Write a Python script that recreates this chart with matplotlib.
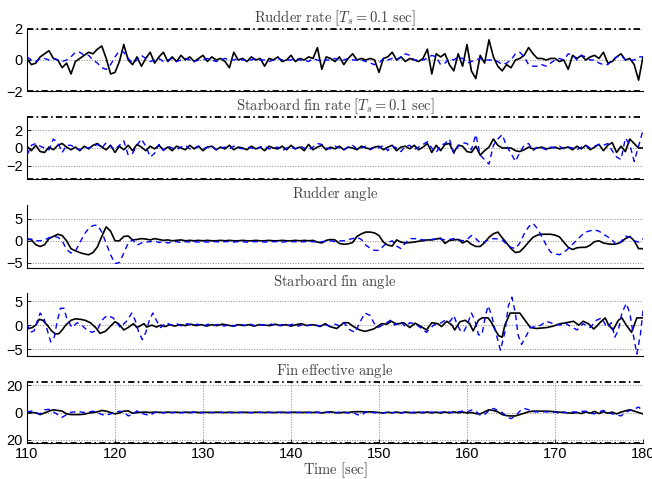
import numpy as np
import matplotlib.pyplot as plt

plt.rcParams['mathtext.fontset'] = 'cm'
plt.rcParams['font.family'] = ['Liberation Sans', 'DejaVu Sans']

# sampling grid, 0.5 s
t = np.arange(110, 180.25, 0.5)

# rudder rate (black = actual, blue = command)
rudder_rate = [0.1, -0.3, -0.2, 0.2, 0.4, 0.6, 0.1, 0.0, -0.5, -0.2,
               -0.9, -0.1, 0.1, 0.3, 0.5, 0.4, 0.7, 0.9, 0.1, -0.9,
               -0.8, -0.1, 1.0, 0.0, -0.3, 0.2, -0.4, 0.1, 0.5, -0.2,
               0.2, 0.5, -0.1, 0.2, -0.1, 0.3, 0.0, 0.2, -0.1, 0.1,
               0.3, -0.1, 0.2, 0.0, 0.1, -0.1, -0.5, 0.5, 0.0, 0.1,
               -0.1, 0.2, 0.0, 0.1, -0.4, 0.1, 0.0, 0.2, -0.1, 0.0,
               0.3, -0.1, 0.1, 0.0, 0.2, 0.1, 0.8, -0.6, 0.2, 0.1,
               -0.1, 0.2, -0.3, 0.1, 0.4, 0.0, 0.1, 0.0, 0.1, 0.0,
               -0.8, 0.1, 0.2, 0.5, 0.0, 0.2, -0.1, 0.1, 0.0, -0.1,
               0.1, 0.7, -0.9, 0.4, 0.2, 0.4, -0.3, -0.7, 0.4, -0.4,
               1.0, -0.7, -1.2, 0.3, -0.2, 1.3, 0.2, -0.4, -0.7, -0.3,
               -0.5, 0.0, 0.1, 0.3, 0.8, 0.4, 0.1, 0.1, 0.0, 0.1,
               0.1, -0.1, 0.0, -0.6, 0.3, 0.1, 0.3, 0.0, 0.2, 0.3,
               0.1, 0.5, -0.2, -0.1, 0.2, 0.4, 0.0, 0.1, -0.3, -1.3, 0.2]
rudder_rate_ref = [0.2, 0.0, -0.1, 0.1, 0.1, 0.0, 0.1, 0.0, -0.1, 0.0,
                   0.2, 0.5, 0.5, 0.3, 0.3, 0.0, -0.2, -0.5, -0.6, -0.3,
                   0.2, 0.6, 0.5, 0.1, -0.2, 0.0, 0.3, 0.1, -0.1, 0.0,
                   0.1, -0.1, 0.0, 0.1, -0.1, 0.0, 0.1, 0.0, -0.1, 0.0,
                   0.0, 0.1, 0.0, -0.1, 0.0, 0.1, 0.0, 0.0, 0.1, 0.0,
                   0.0, 0.0, 0.1, 0.0, 0.0, -0.1, 0.0, 0.1, 0.0, 0.0,
                   0.0, 0.1, 0.0, 0.0, -0.1, 0.1, 0.0, -0.1, 0.0, 0.0,
                   0.1, 0.0, 0.0, 0.1, 0.0, 0.0, 0.0, -0.1, -0.2, -0.3,
                   -0.2, 0.1, 0.0, 0.1, 0.0, 0.2, 0.4, 0.3, 0.0, 0.0,
                   0.0, 0.1, 0.3, 0.2, -0.3, -0.2, 0.1, 0.0, 0.2, 0.1,
                   -0.2, -0.1, 0.0, 0.1, 0.0, 0.0, 0.0, -0.1, -0.3, -0.2,
                   0.0, 0.4, 0.5, 0.2, -0.3, -0.4, -0.4, -0.3, -0.4, -0.2,
                   0.0, 0.1, 0.0, 0.4, 0.3, 0.0, 0.3, 0.2, 0.0, 0.0,
                   -0.2, -0.3, -0.3, 0.0, 0.2, 0.3, 0.0, 0.0, 0.0, 0.2, 0.2]

# starboard fin rate
fin_rate = [0.2, -0.3, 0.3, -0.4, -0.5, 0.1, -0.2, 0.3, 0.5, 0.1,
            -0.2, 0.1, -0.3, 0.2, -0.1, 0.3, 0.5, 0.1, -0.2, 0.3,
            -0.5, 0.2, -0.2, 0.3, -0.3, 0.4, 0.1, -0.3, 0.2, -0.1,
            0.3, -0.2, 0.1, -0.3, 0.2, 0.0, -0.2, 0.3, -0.1, 0.2,
            -0.3, 0.1, 0.2, -0.2, 0.1, -0.1, 0.3, -0.2, 0.1, 0.0,
            -0.2, 0.2, -0.1, 0.1, -0.3, 0.2, 0.0, -0.1, 0.2, -0.2,
            0.3, -0.1, 0.1, -0.3, 0.4, -0.2, 0.1, 0.3, -0.2, 0.1,
            -0.1, 0.2, -0.2, 0.1, 0.0, -0.2, 0.2, 0.0, -0.1, 0.1,
            0.2, -0.2, 0.1, 0.3, -0.3, 0.1, 0.2, -0.1, 0.3, -0.2,
            0.1, 0.5, -0.5, 0.3, -0.3, 0.4, 0.5, -0.5, 0.3, 0.2,
            -0.4, -0.5, 0.2, -0.8, -0.3, 0.1, 1.0, 0.3, 0.0, 0.0,
            0.0, -0.3, -0.4, -0.2, 0.1, -0.1, 0.0, 0.1, -0.1, 0.0,
            0.1, -0.1, 0.0, 0.1, -0.2, 0.2, -0.1, 0.3, -0.2, 0.1,
            0.4, -0.3, 0.3, 0.6, -0.5, 0.2, -0.4, 1.0, 0.5, 0.0, 0.0]
fin_rate_ref = [-0.8, 0.3, 0.5, 0.2, 0.0, -0.2, 1.0, 0.6, -0.5, 0.3,
                0.3, 0.0, -0.2, 0.1, 0.0, 0.2, 0.4, 0.0, 0.6, 0.2,
                -0.2, 0.3, 0.8, -0.8, -0.6, 0.3, 1.0, 0.2, -1.0, -0.6,
                0.4, -0.3, 0.2, 0.0, -0.2, 0.1, 0.3, -0.1, 0.0, 0.2,
                -0.1, 0.1, 0.2, -0.2, 0.0, 0.1, -0.1, 0.2, 0.0, -0.1,
                0.1, 0.0, -0.2, 0.1, 0.2, -0.1, 0.0, 0.1, -0.3, 0.0,
                0.1, -0.1, 0.2, 0.0, -0.2, 0.1, 0.5, 0.4, 0.0, -0.1,
                0.2, 0.0, -0.2, 0.1, 0.3, -0.1, 0.0, 0.2, -0.2, 0.1,
                0.0, 0.3, -0.3, 0.2, 0.0, -0.4, 0.2, 0.3, -0.2, 0.1,
                0.4, 0.7, 0.0, -0.5, 0.3, 0.5, 1.0, -0.6, 0.2, 0.6,
                0.5, -0.2, 1.5, -0.8, -1.3, -1.8, 0.3, 1.0, 1.5, 0.2,
                -0.6, -1.5, -0.5, 0.3, 0.5, -0.3, 0.1, 0.0, -0.2, 0.1,
                0.0, 0.2, -0.1, 0.1, 0.0, -0.2, 0.1, 0.3, 0.0, 0.2,
                0.4, 0.3, 0.5, -0.3, -1.0, -1.3, 1.1, 0.4, -1.5, 0.2, 2.0]

# rudder angle
rudder_ang = [0.5, 0.2, -0.9, -1.3, -0.9, 0.5, 1.0, 1.5, 1.2, 0.0,
              -1.8, -2.3, -2.7, -3.0, -3.2, -2.7, -1.4, 1.0, 3.2, 2.2,
              0.0, 0.0, 1.0, 1.1, 0.2, 0.3, 0.5, 0.4, 0.2, 0.5,
              0.3, 0.1, 0.2, 0.0, 0.1, 0.2, 0.0, 0.1, 0.0, 0.1,
              0.0, 0.1, 0.0, 0.0, 0.1, 0.0, 0.1, 0.0, 0.0, 0.1,
              0.0, 0.0, 0.1, 0.0, 0.0, 0.1, 0.0, 0.0, 0.1, 0.0,
              0.0, 0.1, 0.0, 0.1, 0.0, 0.1, -0.3, -0.5, 0.1, 0.3,
              0.2, -0.6, -0.8, -0.7, -0.4, 1.0, 1.6, 2.0, 2.0, 1.8,
              1.2, -0.3, -1.0, -1.2, 0.2, -0.3, -0.5, -0.4, -0.3, -0.1,
              0.0, 0.2, 0.2, 0.4, 0.6, -0.6, 0.1, 0.2, 0.3, -0.5,
              0.0, -0.8, -1.3, -1.3, -0.4, 0.8, 1.6, 2.0, 0.7, -0.5,
              -1.8, -2.7, -2.5, -1.5, -0.3, 0.8, 1.3, 1.5, 1.5, 1.5,
              1.3, 0.9, -0.3, -1.5, -2.0, -1.6, -1.5, -1.5, -1.0, -0.2,
              0.0, -0.5, -0.7, -0.8, -0.7, -0.3, 0.5, 1.0, 0.0, -1.8, -1.8]
rudder_ang_ref = [0.2, 0.4, 0.0, 0.0, 0.2, 0.7, 1.0, 0.8, 0.0, -2.0,
                  -2.8, -2.4, -0.5, 1.5, 2.8, 3.5, 3.6, 2.0, -0.6, -3.2,
                  -5.2, -5.0, -2.8, -0.5, 0.2, -1.0, -0.5, -0.3, -0.2, 0.0,
                  -0.4, -0.2, -0.5, -0.3, -0.2, -0.4, -0.2, -0.3, -0.2, -0.3,
                  -0.2, -0.3, -0.2, -0.2, -0.3, -0.2, -0.2, -0.3, -0.2, -0.2,
                  -0.3, -0.2, -0.2, -0.2, -0.3, -0.2, -0.2, -0.2, -0.3, -0.2,
                  -0.2, -0.2, -0.3, -0.2, -0.2, -0.2, -0.3, -0.2, -0.1, 0.0,
                  -0.2, 0.0, 0.0, 0.3, 0.5, 0.8, 0.3, -1.0, -1.7, -2.2,
                  -2.2, -1.2, -0.4, 0.0, -1.2, -1.8, -0.5, 0.5, 0.5, 0.4,
                  0.2, 0.2, 0.3, 0.5, 0.4, 0.2, 0.3, 0.5, 0.3, 0.0,
                  0.3, 1.2, 0.5, -0.5, -0.2, 0.3, 0.5, 0.4, 0.2, -0.8,
                  -1.5, -1.8, -0.5, 1.6, 3.2, 4.0, 2.8, 1.0, -1.0, -2.6,
                  -3.0, -3.2, -2.7, -1.8, -0.8, 0.2, 1.2, 2.0, 2.3, 2.5,
                  2.2, 1.5, 0.9, 0.2, -1.0, -0.2, 1.1, 0.8, 0.0, -0.3, 0.5]

# starboard fin angle (read at turning points)
fin_ang_t = [110.0, 110.6, 111.0, 111.4, 111.8, 112.3, 112.8, 113.2, 113.6, 114.0,
             114.4, 115.0, 115.5, 116.1, 116.6, 117.2, 117.8, 118.3, 118.9, 119.5,
             120.0, 120.4, 121.0, 121.5, 122.1, 122.5, 123.3, 123.6, 124.2, 124.7,
             125.2, 125.7, 126.2, 126.8, 127.4, 128.0, 128.6, 129.2, 129.8, 130.4,
             131.0, 131.6, 132.2, 132.8, 133.4, 134.0, 134.6, 135.2, 135.8, 136.4,
             137.0, 137.6, 138.2, 138.8, 139.4, 140.0, 140.6, 141.2, 141.8, 142.4,
             143.0, 143.3, 143.9, 144.4, 145.2, 146.0, 146.5, 147.1, 147.8, 148.4,
             149.4, 150.3, 150.9, 151.4, 152.0, 152.8, 153.5, 154.1, 154.7, 155.4,
             156.0, 156.7, 157.1, 157.7, 158.3, 158.6, 159.2, 159.8, 160.3, 160.7,
             161.3, 161.7, 162.4, 162.8, 163.2, 163.6, 164.0, 164.3, 164.9, 166.0,
             166.6, 167.2, 167.9, 169.1, 169.8, 170.6, 171.3, 172.1, 172.7, 173.2,
             173.8, 174.4, 174.7, 175.1, 175.7, 176.1, 176.6, 177.2, 177.6, 178.1,
             178.7, 179.3, 180.0]
fin_ang = [-0.8, -0.5, 0.0, 1.2, 1.0, 0.0, -1.2, -1.8, -1.8, -1.0,
           0.0, 1.0, 1.3, 1.2, 1.0, 0.5, -0.5, -1.7, -1.3, -0.2,
           0.7, 0.3, -1.0, -0.5, 0.3, -0.5, 0.3, -0.4, 0.0, -0.4,
           0.0, -0.3, 0.1, -0.2, 0.1, -0.1, 0.2, -0.1, 0.1, -0.2,
           0.1, -0.1, 0.2, 0.0, -0.2, 0.1, -0.1, 0.1, -0.2, 0.1,
           0.0, -0.1, 0.2, -0.1, 0.1, -0.2, 0.1, 0.3, -0.1, 0.1,
           -0.1, -0.3, 0.3, -0.3, -0.7, 0.5, 0.5, -0.3, -1.0, -1.3,
           -0.8, 0.3, 0.2, 0.8, 0.2, 0.5, -0.5, 0.4, -0.2, -1.0,
           0.5, 0.3, -0.3, 0.8, 0.0, -1.0, 0.7, 1.0, 0.3, -1.2,
           1.0, 1.5, 1.5, 0.5, -1.0, -2.2, -2.5, 0.0, 2.5, 2.5,
           1.0, -0.5, -0.7, -0.5, -0.2, 0.3, 0.5, 0.8, 0.0, 0.8,
           0.3, -0.8, -0.3, 0.5, 1.5, 0.0, -1.0, 1.0, 1.5, 0.0,
           -1.5, 1.5, 1.5]
fin_ang_ref_t = [110.0, 110.4, 110.8, 111.1, 111.5, 111.9, 112.3, 112.7, 113.1, 113.4,
                 113.8, 114.2, 114.5, 115.1, 115.7, 116.2, 116.8, 117.4, 118.0, 118.5,
                 119.1, 119.8, 120.6, 121.4, 121.9, 122.3, 122.7, 123.1, 123.5, 123.9,
                 124.3, 124.7, 125.2, 125.8, 126.4, 127.0, 127.6, 128.2, 128.8, 129.4,
                 130.0, 130.6, 131.2, 131.8, 132.4, 133.0, 133.6, 134.2, 134.8, 135.4,
                 136.0, 136.6, 137.2, 137.8, 138.4, 139.0, 139.6, 140.2, 140.8, 141.4,
                 142.0, 142.6, 143.2, 143.8, 144.4, 145.0, 145.6, 146.0, 146.7, 147.3,
                 147.8, 148.4, 149.0, 149.4, 149.9, 150.7, 151.3, 151.8, 152.4, 153.0,
                 153.5, 154.1, 154.7, 155.4, 156.2, 156.9, 157.5, 158.1, 158.5, 158.8,
                 159.2, 159.6, 160.0, 160.5, 160.9, 161.3, 161.7, 162.1, 162.4, 162.8,
                 163.2, 163.8, 164.3, 164.7, 165.1, 165.5, 165.8, 166.2, 166.8, 167.2,
                 167.8, 168.4, 169.0, 169.8, 170.6, 171.1, 171.7, 172.5, 173.2, 174.0,
                 174.7, 175.3, 175.9, 176.4, 176.8, 177.2, 177.6, 178.1, 178.5, 178.9,
                 179.3, 179.7, 180.0]
fin_ang_ref = [0.3, -1.5, -1.2, 0.5, 2.5, 1.5, -1.0, -3.5, -2.5, 0.5,
               3.5, 3.5, 1.5, -0.5, 0.5, 0.0, -1.0, -1.5, -1.0, 1.0,
               2.0, 1.5, -0.5, 1.0, 2.5, 1.0, -1.5, -3.0, -1.5, 1.0,
               2.5, 1.0, -0.5, 0.5, 0.0, 0.3, -0.2, 0.3, -0.1, 0.2,
               -0.2, 0.2, -0.1, 0.2, -0.2, 0.1, -0.2, 0.2, -0.1, 0.2,
               -0.2, 0.1, -0.1, 0.2, -0.2, 0.1, -0.1, 0.2, -0.2, 0.1,
               -0.1, 0.2, -0.2, 0.1, -0.2, 0.2, -0.2, 0.5, -1.0, -1.5,
               0.5, 2.5, 2.0, 0.5, -0.5, 0.3, 1.0, 0.0, 0.8, -0.3,
               0.5, 0.3, -0.5, -1.5, 0.0, 0.3, 1.0, 0.8, 2.0, 0.5,
               -1.0, -1.5, 0.0, 2.5, 1.0, -2.0, -2.0, 2.0, 4.0, 2.0,
               -1.0, -5.2, -1.5, 4.0, 5.8, 2.5, -2.0, -4.0, -2.0, -0.5,
               -0.3, 0.0, 0.8, 0.3, 0.0, 0.5, -0.2, -1.0, 0.3, -0.5,
               1.0, 1.5, -0.5, 0.5, -2.5, -1.0, 2.5, 4.5, 2.5, -2.0,
               -6.0, -2.0, 3.0]

# fin effective angle
fin_eff = [0.5, 0.0, -0.2, -1.5, -0.3, 1.0, 2.0, 1.5, 1.0, -1.0,
           -1.5, -1.5, -1.5, -1.2, -0.5, 0.0, 0.5, 1.5, 1.0, 0.0,
           -1.0, -0.3, 1.0, 1.2, -0.5, 0.0, 0.2, 0.3, 0.0, 0.3,
           0.2, 0.0, 0.3, 0.1, 0.2, 0.0, 0.2, 0.1, 0.3, 0.0,
           0.2, 0.1, 0.0, 0.2, 0.1, 0.0, 0.2, 0.1, 0.0, 0.2,
           0.1, 0.0, 0.2, 0.1, 0.0, 0.2, 0.0, 0.1, 0.2, 0.0,
           0.1, 0.2, 0.0, 0.1, 0.2, 0.0, 0.3, -0.3, 0.2, 0.5,
           0.0, -0.3, 0.2, 0.0, 0.5, 0.6, 0.6, 0.4, 0.5, 0.3,
           0.0, -0.3, 0.2, -0.2, 0.3, -0.2, 0.3, 0.0, -0.3, 0.3,
           -0.2, 0.4, -0.3, 0.3, -0.4, 0.4, -0.3, 0.5, -0.2, 0.3,
           -0.3, 0.0, -0.8, -1.0, 0.5, 2.0, 1.5, 0.5, -1.5, -2.3,
           -2.5, -2.5, -1.5, -0.5, 0.5, 1.0, 1.0, 1.0, 1.0, 0.8,
           0.6, 0.3, 0.0, -0.3, -0.5, 0.0, -0.8, 0.5, -0.5, 0.8,
           -0.8, 0.6, -0.5, 0.3, -1.0, 0.3, 1.2, 2.0, 1.0, 0.0, -1.0]
fin_eff_ref = [0.5, 1.0, -0.2, -1.0, 2.0, 2.3, 0.5, -1.5, -3.5, -1.5,
               0.2, 0.5, 0.5, 0.0, 0.3, 1.0, 0.0, -1.5, -2.0, -1.0,
               0.0, 1.0, 0.5, -2.5, -1.5, 1.2, -0.5, -1.5, -2.0, 0.0,
               0.3, -0.3, 0.2, -0.2, 0.3, -0.2, 0.2, -0.3, 0.2, 0.0,
               -0.2, 0.2, 0.0, -0.2, 0.2, -0.1, 0.1, -0.2, 0.1, 0.0,
               0.2, -0.2, 0.0, 0.2, -0.1, 0.1, -0.2, 0.2, 0.0, -0.1,
               0.1, -0.2, 0.2, 0.0, -0.1, 0.2, 0.0, -0.2, 0.2, 0.0,
               -0.3, 0.3, 0.0, -0.3, 0.3, -1.5, -2.0, 0.5, 0.3, -0.2,
               0.3, -0.3, 0.4, -0.2, 0.3, -0.4, 0.3, -0.3, 0.4, -0.3,
               0.3, -0.4, 0.4, -0.3, 0.2, 0.5, 0.3, -0.3, 0.5, 1.0,
               0.5, 1.8, 1.0, -2.0, -1.5, 1.5, 3.0, 1.5, 0.0, -3.0,
               -4.5, -2.5, 1.0, 3.0, 2.0, 0.5, 0.5, 0.5, 0.5, 0.3,
               0.3, -0.5, 0.4, -0.3, 0.5, 0.3, 0.8, 1.0, -0.5, -1.0,
               0.5, 1.5, 0.0, -1.0, -1.8, -2.5, 0.0, 1.5, 2.5, 4.0, 1.0]

titles = [r'$\mathrm{Rudder\ rate}\ [T_s = 0.1\ \mathrm{sec}]$',
          r'$\mathrm{Starboard\ fin\ rate}\ [T_s = 0.1\ \mathrm{sec}]$',
          r'$\mathrm{Rudder\ angle}$',
          r'$\mathrm{Starboard\ fin\ angle}$',
          r'$\mathrm{Fin\ effective\ angle}$']

fig = plt.figure(figsize=(6.52, 4.79), dpi=100)
left, width = 0.0414, 0.9448
rects = [(left, 0.8100, width, 0.1295),
         (left, 0.6257, width, 0.1307),
         (left, 0.4399, width, 0.1321),
         (left, 0.2568, width, 0.1309),
         (left, 0.0745, width, 0.1286)]
axes = [fig.add_axes(r) for r in rects]

series = [(t, rudder_rate, t, rudder_rate_ref),
          (t, fin_rate, t, fin_rate_ref),
          (t, rudder_ang, t, rudder_ang_ref),
          (fin_ang_t, fin_ang, fin_ang_ref_t, fin_ang_ref),
          (t, fin_eff, t, fin_eff_ref)]
ylims = [(-2, 2), (-3.5, 3.5), (-6.3, 8.2), (-6.4, 6.6), (-22.5, 22.5)]
yticks = [[-2, 0, 2], [-2, 0, 2], [-5, 0, 5], [-5, 0, 5], [-20, 0, 20]]
limits = [2, 3.5, None, None, 22.5]

dashdot = (0, (3.5, 1.8, 0.9, 1.8))
for i, ax in enumerate(axes):
    ta, ya, tr, yr = series[i]
    ax.plot(ta, ya, color='k', lw=1.2, zorder=3)
    ax.plot(tr, yr, color='b', lw=1.0, ls=(0, (4, 3)), zorder=4)
    if limits[i] is not None:
        ax.axhline(limits[i], color='k', lw=1.3, ls=dashdot, zorder=5, clip_on=False)
        ax.axhline(-limits[i], color='k', lw=1.3, ls=dashdot, zorder=5, clip_on=False)
    ax.set_xlim(110, 180)
    ax.set_ylim(*ylims[i])
    ax.set_yticks(yticks[i])
    ax.spines['top'].set_visible(False)
    ax.spines['right'].set_visible(False)
    ax.spines['left'].set_linewidth(0.8)
    ax.spines['bottom'].set_linewidth(0.8)
    ax.tick_params(direction='in', length=3, width=0.6, labelsize=10.5, pad=3)
    ax.grid(axis='y', ls=':', color='#8a8a8a', lw=0.7)
    ax.set_axisbelow(True)
    ax.set_title(titles[i], fontsize=10.5, color='#404040', pad=5)
    if i < 4:
        ax.set_xticks([])

ax = axes[4]
ax.set_yticklabels(['20', '0', '20'])
ax.set_xticks(range(110, 181, 10))
ax.grid(axis='x', ls=':', color='#8a8a8a', lw=0.7)
ax.set_xlabel(r'$\mathrm{Time\ [sec]}$', fontsize=10.5, color='#404040', labelpad=-1)

fig.savefig('out.png', dpi=100)
